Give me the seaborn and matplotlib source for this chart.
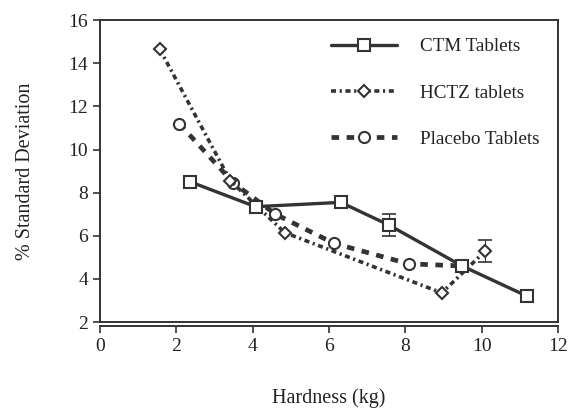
import matplotlib
matplotlib.use("Agg")
import matplotlib.pyplot as plt
import seaborn as sns
import pandas as pd

# Hardness (kg) vs % standard deviation for three tablet formulations
ctm_hardness = [2.37, 4.08, 6.31, 7.57, 9.49, 11.19]
ctm_sd = [8.5, 7.35, 7.55, 6.5, 4.6, 3.2]

hctz_hardness = [1.57, 3.42, 4.84, 8.96, 10.1]
hctz_sd = [14.65, 8.55, 6.15, 3.35, 5.3]

placebo_hardness = [2.08, 3.5, 4.6, 6.13, 8.09, 9.5]
placebo_sd = [11.2, 8.45, 7.0, 5.65, 4.7, 4.6]

# error bars shown on selected points: (series, hardness, sd, half-width)
error_points = [("CTM Tablets", 7.57, 6.5, 0.5), ("HCTZ tablets", 10.1, 5.3, 0.5)]

x_ticks = [0, 2, 4, 6, 8, 10, 12]
y_ticks = [2, 4, 6, 8, 10, 12, 14, 16]

sns.set_theme(style="ticks")
plt.rcParams["font.family"] = ["Liberation Serif", "DejaVu Serif"]

ink = "#333333"
fig = plt.figure(figsize=(5.71, 4.12), dpi=100)
ax = fig.add_axes([0.175, 0.2184, 0.802, 0.7326])

series = [
    ("CTM Tablets", ctm_hardness, ctm_sd, "s", "-", 2.4, 8.5, 4),
    ("HCTZ tablets", hctz_hardness, hctz_sd, "D", (0, (1.4, 1.0, 0.6, 1.0)), 2.6, 6.0, 3),
    ("Placebo Tablets", placebo_hardness, placebo_sd, "o", (0, (1.6, 1.6)), 3.4, 8.0, 2),
]

for name, xs, ys, mk, ls, lw, ms, z in series:
    df = pd.DataFrame({"Hardness (kg)": xs, "% Standard Deviation": ys})
    sns.lineplot(data=df, x="Hardness (kg)", y="% Standard Deviation", ax=ax,
                 sort=False, color=ink, linestyle=ls, linewidth=lw,
                 marker=mk, markersize=ms, markerfacecolor="white",
                 markeredgecolor=ink, markeredgewidth=1.5, label=name, zorder=z)

for name, xv, yv, err in error_points:
    ax.errorbar([xv], [yv], yerr=[err], fmt="none", ecolor=ink,
                elinewidth=0.8, capsize=5, capthick=1.2, zorder=1)

ax.set_xlim(0, 12)
ax.set_ylim(2, 16)
ax.set_xticks(x_ticks)
ax.set_yticks(y_ticks)
ax.tick_params(direction="out", length=5, width=1.2, colors=ink,
               labelsize=14, labelcolor="#222222")
for side in ["left", "right", "top", "bottom"]:
    ax.spines[side].set_visible(True)
    ax.spines[side].set_color(ink)
    ax.spines[side].set_linewidth(1.4)
ax.spines["bottom"].set_position(("outward", 3))
ax.axhline(2, color=ink, linewidth=1.4, clip_on=False, zorder=5)

ax.set_xlabel("Hardness (kg)", fontsize=14.5, color="#222222", labelpad=24)
ax.set_ylabel("% Standard Deviation", fontsize=14.5, color="#222222", labelpad=24)

leg = ax.legend(loc="upper left", bbox_to_anchor=(0.472, 0.992), frameon=False,
                fontsize=13.8, handlelength=3.4, handletextpad=1.2,
                labelspacing=1.5, borderpad=0.3)
for t in leg.get_texts():
    t.set_color("#222222")

fig.savefig("out.png", dpi=100)
